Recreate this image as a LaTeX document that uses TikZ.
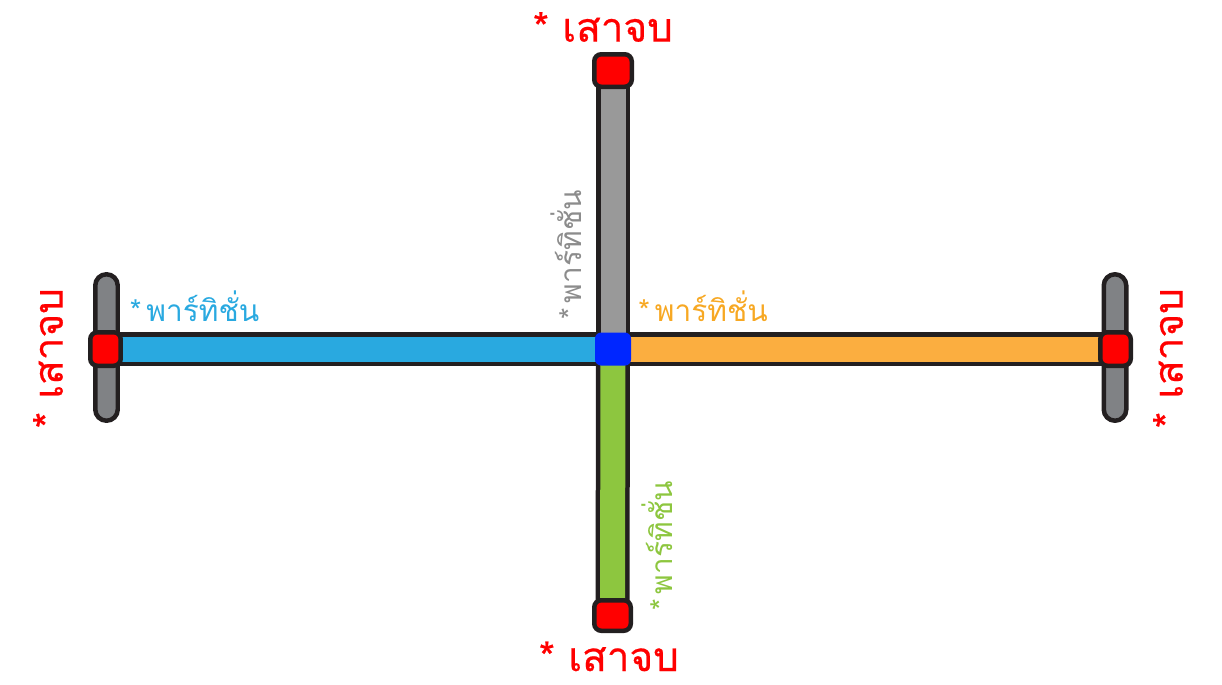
\documentclass[tikz,border=0pt]{standalone}
\usepackage{fontspec}
\newfontfamily\thaifont[Script=Thai]{Loma}
\newfontfamily\thaiheavy[Script=Thai,FakeBold=0.5]{Loma}
\usetikzlibrary{backgrounds}
\definecolor{outline}{HTML}{231F20}
\definecolor{capred}{HTML}{FF0000}
\definecolor{hubblue}{HTML}{0026FF}
\definecolor{barblue}{HTML}{29A9E0}
\definecolor{barorange}{HTML}{FBAE40}
\definecolor{bargray}{HTML}{999999}
\definecolor{bargreen}{HTML}{8DC63F}
\definecolor{postgray}{HTML}{808285}
\definecolor{txtorange}{HTML}{F7A823}
\definecolor{txtgray}{HTML}{8C8C8C}

\begin{document}
\begin{tikzpicture}[x=0.02cm,y=-0.02cm,
		bar/.style={draw=outline,line width=0.68cm,postaction={draw=#1,line width=0.5cm}},
		endcap/.style={draw=outline,line width=0.09cm,fill=capred,rounded corners=0.14cm,
			minimum width=0.75cm,minimum height=0.65cm,inner sep=0pt},
		sidecap/.style={endcap,minimum width=0.61cm,minimum height=0.67cm},
		endpost/.style={draw=outline,line width=0.09cm,fill=postgray,rounded corners=0.225cm,
			minimum width=0.45cm,minimum height=2.93cm,inner sep=0pt},
		endlabel/.style={text=capred,font=\thaiheavy\fontsize{23}{25}\selectfont,inner sep=0pt},
		partlabel/.style={text=#1,font=\thaifont\fontsize{17}{19}\selectfont,inner sep=0pt}]
			\useasboundingbox (0,0) rectangle (1222,684);
			% end posts
			\node[endpost] (postL) at (106.5,347.5) {};
			\node[endpost] (postR) at (1115,347.5) {};
			% caps and hub
			\node[endcap] (capT) at (613,70.5) {};
			\node[endcap,minimum width=0.73cm,minimum height=0.61cm] (capB) at (612.5,615.5) {};
			\node[sidecap] (capL) at (105.5,349) {};
			\node[sidecap] (capR) at (1115.5,349) {};
			\node[fill=hubblue,rounded corners=0.12cm,minimum width=0.72cm,minimum height=0.66cm,inner sep=0pt] (hub) at (613,349) {};
			% partitions
			\begin{scope}[on background layer]
				\draw[bar=barblue] (capL.center) -- (hub.center);
				\draw[bar=barorange] (hub.center) -- (capR.center);
				\draw[bar=bargray] (capT.center) -- (hub.center);
				\draw[bar=bargreen] (hub.center) -- (capB.center);
			\end{scope}
			% labels
			\node[endlabel] (endT) at (603,27) {* เสาจบ};
			\node[endlabel,anchor=base,text depth=0pt] (endB) at (609,671) {* เสาจบ};
			\node[endlabel,rotate=90] (endL) at (48,358) {* เสาจบ};
			\node[endlabel,rotate=90] (endR) at (1168,358) {* เสาจบ};
			\node[partlabel=barblue] (partL) at (194.5,306) {*\,พาร์ทิชั่น};
			\node[partlabel=txtorange] (partR) at (703,306) {*\,พาร์ทิชั่น};
			\node[partlabel=txtgray,rotate=90] (partT) at (566,255) {*\,พาร์ทิชั่น};
			\node[partlabel=bargreen,rotate=90] (partB) at (657,546) {*\,พาร์ทิชั่น};
		\end{tikzpicture}
\end{document}
